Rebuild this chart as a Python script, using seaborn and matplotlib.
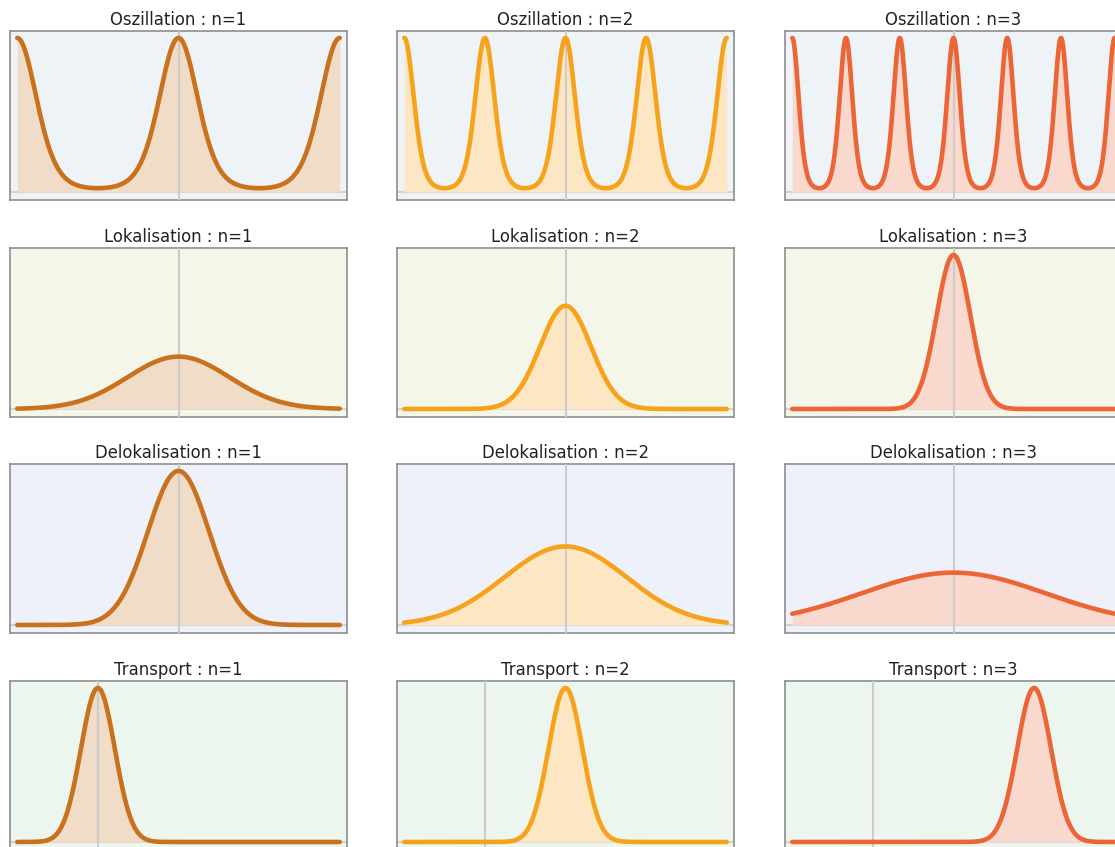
"""Grid of wave-packet sketches: oscillation, localisation, delocalisation, transport."""

import matplotlib

matplotlib.use("Agg")
import matplotlib.pyplot as plt
import numpy as np
import seaborn as sns

# --- values ------------------------------------------------------------------
ROW_NAMES = ["Oszillation", "Lokalisation", "Delokalisation", "Transport"]
N_VALUES = [1, 2, 3]

LINE_COLORS = ["#c9711c", "#f6a21b", "#ec6536"]
FILL_COLORS = ["#f0dcc7", "#fde6c4", "#f9d8cd"]
ROW_BACKGROUNDS = ["#eef3f8", "#f4f6ea", "#eef1fa", "#ecf6ee"]

# oscillation: periodic peaks, spacing shrinks with n
OSC_SPACING = [1.0, 0.5, 1 / 3]
OSC_SHARPNESS = 1.85
# localisation: packet narrows and grows with n
LOK_WIDTH = [0.316, 0.158, 0.105]
LOK_PEAK = [0.34, 0.67, 1.0]
# delocalisation: packet spreads and flattens with n
DELOK_WIDTH = [0.19, 0.38, 0.57]
DELOK_PEAK = [1.0, 0.51, 0.34]
# transport: same packet, moving to the right
TRANSPORT_CENTER = [-0.5, 0.0, 0.5]
TRANSPORT_WIDTH = 0.105
TRANSPORT_PEAK = [1.0, 1.0, 1.0]
# vertical reference line per row
MARKER_X = [0.0, 0.0, 0.0, -0.5]

X = np.linspace(-1, 1, 800)

FIG_W, FIG_H = 1115, 847
COL_LEFT = [10, 397, 785]
COL_WIDTH = 337
ROW_TOP = [31, 248, 464, 681]
ROW_HEIGHT = 169


def gauss(x, center, width, peak):
    return peak * np.exp(-((x - center) ** 2) / (2 * width**2))


def curve(row, col):
    if row == 0:
        return np.exp(OSC_SHARPNESS * (np.cos(2 * np.pi * X / OSC_SPACING[col]) - 1))
    if row == 1:
        return gauss(X, 0.0, LOK_WIDTH[col], LOK_PEAK[col])
    if row == 2:
        return gauss(X, 0.0, DELOK_WIDTH[col], DELOK_PEAK[col])
    return gauss(X, TRANSPORT_CENTER[col], TRANSPORT_WIDTH, TRANSPORT_PEAK[col])


def main() -> None:
    sns.set_theme(style="white")
    plt.rcParams["font.family"] = ["DejaVu Sans"]

    fig = plt.figure(figsize=(FIG_W / 100, FIG_H / 100), dpi=100)

    for row, name in enumerate(ROW_NAMES):
        for col, n in enumerate(N_VALUES):
            left = COL_LEFT[col] / FIG_W
            bottom = (FIG_H - ROW_TOP[row] - ROW_HEIGHT) / FIG_H
            ax = fig.add_axes([left, bottom, COL_WIDTH / FIG_W, ROW_HEIGHT / FIG_H])
            ax.set_facecolor(ROW_BACKGROUNDS[row])

            y = curve(row, col)
            ax.axhline(0, color="#d2d2d2", lw=1.5, zorder=1)
            ax.fill_between(X, 0, y, color=FILL_COLORS[col], lw=0, zorder=2)
            ax.axvline(MARKER_X[row], color="#cccccc", lw=1.5, zorder=3)
            sns.lineplot(x=X, y=y, ax=ax, color=LINE_COLORS[col], lw=3.3, zorder=4)

            ax.set_xlim(-1.045, 1.045)
            ax.set_ylim(-0.052, 1.045)
            ax.set_xticks([])
            ax.set_yticks([])
            ax.set_xlabel("")
            ax.set_ylabel("")
            for spine in ax.spines.values():
                spine.set_color("#8e8e8e")
                spine.set_linewidth(1.2)
            ax.set_title(f"{name} : n={n}", fontsize=11.9, color="#222222", pad=4)

    fig.savefig("out.png", dpi=100)
    plt.close(fig)


if __name__ == "__main__":
    main()
